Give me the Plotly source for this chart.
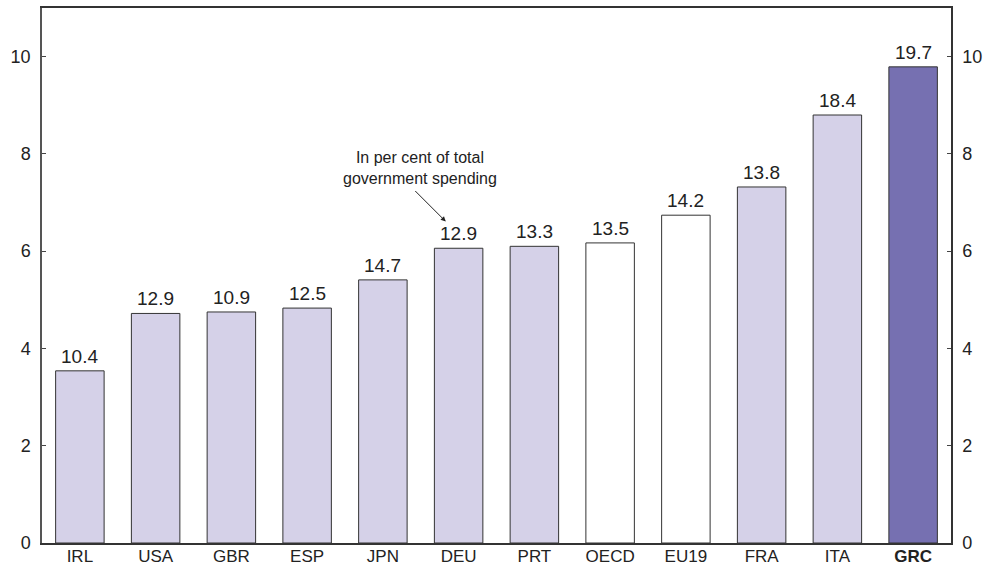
import plotly.graph_objects as go

categories = ["IRL", "USA", "GBR", "ESP", "JPN", "DEU", "PRT", "OECD", "EU19", "FRA", "ITA", "GRC"]
values = [3.54, 4.72, 4.75, 4.83, 5.41, 6.06, 6.10, 6.17, 6.74, 7.32, 8.80, 9.79]
share_labels = ["10.4", "12.9", "10.9", "12.5", "14.7", "12.9", "13.3", "13.5", "14.2", "13.8", "18.4", "19.7"]
tick_text = ["IRL", "USA", "GBR", "ESP", "JPN", "DEU", "PRT", "OECD", "EU19", "FRA", "ITA", "<b>GRC</b>"]

LIGHT = "#d5d1e8"
DARK = "#7670b1"
WHITE = "#ffffff"
fill = []
for c in categories:
    if c == "GRC":
        fill.append(DARK)
    elif c in ("OECD", "EU19"):
        fill.append(WHITE)
    else:
        fill.append(LIGHT)

FONT = "Liberation Sans, Arial, Helvetica, sans-serif"

fig = go.Figure()
fig.add_trace(go.Bar(
    x=categories, y=values, width=0.64,
    marker=dict(color=fill, line=dict(color="#333333", width=1)),
    hoverinfo="skip", showlegend=False,
))
# dummy trace to activate right axis
fig.add_trace(go.Scatter(x=[categories[0]], y=[0], yaxis="y2", mode="markers",
                         marker=dict(opacity=0), showlegend=False, hoverinfo="skip"))

annotations = []
for c, v, t in zip(categories, values, share_labels):
    annotations.append(dict(x=c, y=v, text=t, showarrow=False, yanchor="bottom",
                            yshift=2, font=dict(size=19, color="#222222", family=FONT)))

annotations.append(dict(x=4.83, y=6.61, ax=-32, ay=-32, text="", showarrow=True,
                        arrowhead=2, arrowsize=1, arrowwidth=1, arrowcolor="#222222",
                        standoff=0, xref="x", yref="y", axref="pixel", ayref="pixel"))
annotations.append(dict(x=4.49, y=7.27, text="In per cent of total<br>government spending",
                        showarrow=False, yanchor="bottom", xanchor="center",
                        font=dict(size=16, color="#222222", family=FONT)))

fig.update_layout(
    width=989, height=568,
    margin=dict(l=42, r=38, t=8, b=25, autoexpand=False),
    paper_bgcolor="white", plot_bgcolor="white",
    font=dict(family=FONT, color="#222222"),
    bargap=0.36,
    annotations=annotations,
    xaxis=dict(
        categoryorder="array", categoryarray=categories,
        tickmode="array", tickvals=categories, ticktext=tick_text,
        tickfont=dict(size=17, color="#222222"),
        showline=True, linecolor="#333333", linewidth=1.5, mirror=True,
        ticks="", showgrid=False, zeroline=False, automargin=False,
        range=[-0.5, 11.5], ticklabelstandoff=-3,
    ),
    yaxis=dict(
        range=[0, 11], tickvals=[0, 2, 4, 6, 8, 10],
        tickfont=dict(size=18, color="#222222"),
        ticks="inside", ticklen=4, tickcolor="#444444", tickwidth=1,
        showline=True, linecolor="#555555", linewidth=1.5,
        showgrid=False, zeroline=False, automargin=False, ticklabelstandoff=6,
    ),
    yaxis2=dict(
        range=[0, 11], tickvals=[0, 2, 4, 6, 8, 10], overlaying="y", side="right",
        tickfont=dict(size=18, color="#222222"),
        ticks="inside", ticklen=4, tickcolor="#444444", tickwidth=1,
        showline=True, linecolor="#333333", linewidth=1.5,
        showgrid=False, zeroline=False, automargin=False, ticklabelstandoff=6,
    ),
)

fig.write_html("out.html")
